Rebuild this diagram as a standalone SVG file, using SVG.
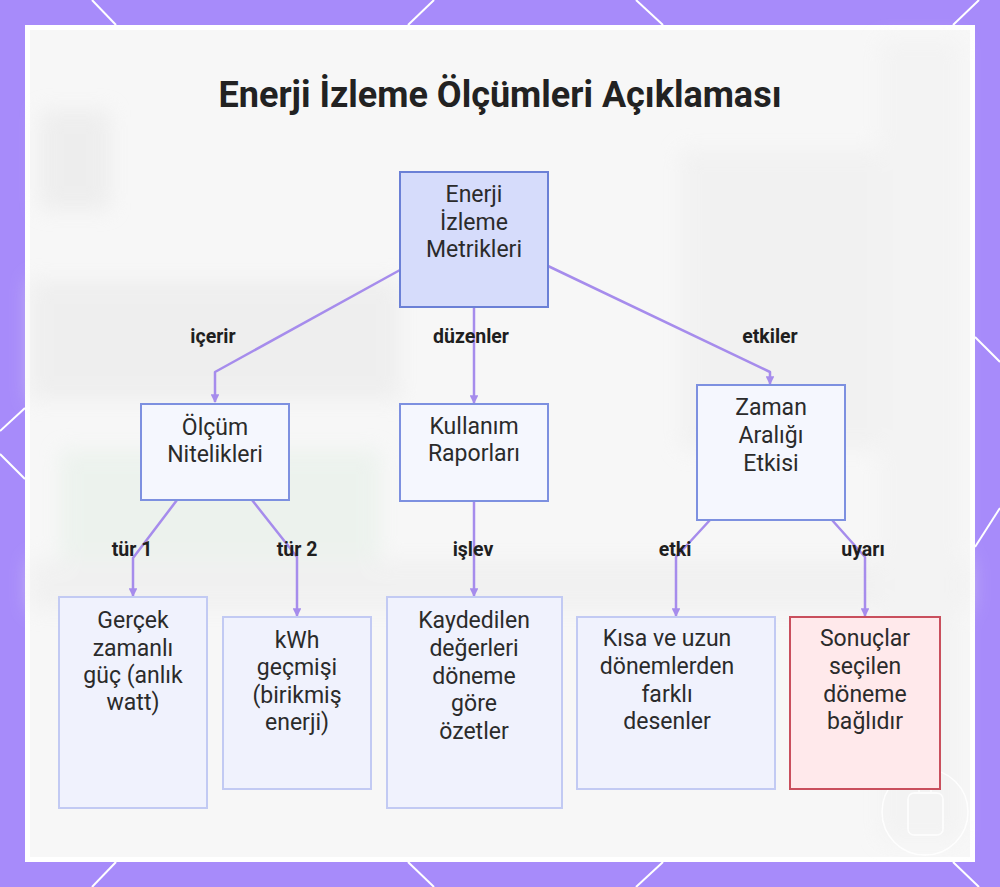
<svg xmlns="http://www.w3.org/2000/svg" width="1000" height="887" viewBox="0 0 1000 887">
<defs>
<style>
.node rect{stroke-width:2}
.main rect{fill:#d6dcfb;stroke:#6b80d6}
.mid rect{fill:#f5f7fe;stroke:#7d90e0}
.leaf rect{fill:#f0f2fd;stroke:#c2caf3}
.warn rect{fill:#ffe9eb;stroke:#c94f5d}
.node text{font-family:Roboto,"Liberation Sans",sans-serif;font-size:23px;fill:#2b2b2b;text-anchor:middle;dominant-baseline:central}
.edges path{fill:none;stroke:#a68cec;stroke-width:2.5;stroke-linejoin:round}
.lbl{font-family:Roboto,"Liberation Sans",sans-serif;font-size:19.5px;font-weight:bold;fill:#1f1f1f;text-anchor:middle;dominant-baseline:central}
.deco{stroke:#ffffff;stroke-width:2;fill:none}
</style>
<marker id="arr" viewBox="0 0 10 10" refX="9" refY="5" markerWidth="3.5" markerHeight="3.5" orient="auto">
<path d="M0,0 L10,5 L0,10 z" fill="#a68cec"/>
</marker>
<filter id="blur" x="-20%" y="-20%" width="140%" height="140%"><feGaussianBlur stdDeviation="10"/></filter>
</defs>
<rect width="1000" height="887" fill="#a78bfa"/>
<g class="deco">
<line x1="92" y1="0" x2="116" y2="25"/>
<line x1="434" y1="0" x2="408" y2="25"/>
<line x1="636" y1="0" x2="663" y2="25"/>
<line x1="979" y1="0" x2="953" y2="25"/>
<line x1="116" y1="862" x2="92" y2="887"/>
<line x1="408" y1="862" x2="434" y2="887"/>
<line x1="663" y1="862" x2="636" y2="887"/>
<line x1="953" y1="862" x2="979" y2="887"/>
<line x1="25" y1="408" x2="0" y2="431"/>
<line x1="0" y1="454" x2="25" y2="479"/>
<line x1="975" y1="337" x2="1000" y2="362"/>
<line x1="975" y1="547" x2="1000" y2="508"/>
</g>
<rect x="25" y="25" width="950" height="837" fill="#ffffff"/>
<rect x="30" y="30" width="940" height="827" fill="#f7f7f7"/>
<g filter="url(#blur)" opacity="0.55">
<rect x="40" y="110" width="70" height="100" fill="#e6e6e6"/>
<rect x="30" y="280" width="370" height="120" fill="#e8e8e8"/>
<rect x="60" y="450" width="320" height="150" fill="#e4efe6"/>
<rect x="30" y="560" width="940" height="50" fill="#ececec"/>
<rect x="680" y="150" width="200" height="300" fill="#ededed"/>
<rect x="880" y="40" width="80" height="800" fill="#f0f0f0"/>
</g>
<g fill="none" stroke="#ffffff" stroke-width="1.5" opacity="0.9">
<circle cx="925" cy="812" r="43"/>
<rect x="908" y="793" width="35" height="42" rx="6"/>
<line x1="919" y1="783" x2="919" y2="792"/>
<line x1="931" y1="783" x2="931" y2="792"/>
</g>
<text x="500" y="95" font-family="Roboto,'Liberation Sans',sans-serif" font-size="36" font-weight="bold" fill="#222222" text-anchor="middle" dominant-baseline="central">Enerji İzleme Ölçümleri Açıklaması</text>
<g class="edges">
<path d="M400,270 L215,372 L215,402" marker-end="url(#arr)"/>
<path d="M474,307 L474,403" marker-end="url(#arr)"/>
<path d="M548,266 L770,372 L770,384" marker-end="url(#arr)"/>
<path d="M177,500 L133,558 L133,596" marker-end="url(#arr)"/>
<path d="M252,500 L297,557 L297,616" marker-end="url(#arr)"/>
<path d="M474,501 L474,596" marker-end="url(#arr)"/>
<path d="M710,520 L676,557 L676,616" marker-end="url(#arr)"/>
<path d="M832,520 L865,557 L865,616" marker-end="url(#arr)"/>
<text class="lbl" x="213" y="336">içerir</text>
<text class="lbl" x="471" y="336">düzenler</text>
<text class="lbl" x="770" y="336">etkiler</text>
<text class="lbl" x="132" y="549">tür 1</text>
<text class="lbl" x="297" y="549">tür 2</text>
<text class="lbl" x="473" y="549">işlev</text>
<text class="lbl" x="675" y="549">etki</text>
<text class="lbl" x="863" y="549">uyarı</text>
</g>
<g id="n-root" class="node main">
<rect x="400" y="172" width="148" height="135"/>
<text x="474" y="194">Enerji</text>
<text x="474" y="222">İzleme</text>
<text x="474" y="249">Metrikleri</text>
</g>
<g id="n-olcum" class="node mid">
<rect x="141" y="404" width="148" height="96"/>
<text x="215" y="427">Ölçüm</text>
<text x="215" y="454">Nitelikleri</text>
</g>
<g id="n-kullanim" class="node mid">
<rect x="400" y="404" width="148" height="97"/>
<text x="474" y="426">Kullanım</text>
<text x="474" y="453">Raporları</text>
</g>
<g id="n-zaman" class="node mid">
<rect x="697" y="385" width="148" height="135"/>
<text x="771" y="407">Zaman</text>
<text x="771" y="435">Aralığı</text>
<text x="771" y="463">Etkisi</text>
</g>
<g id="n-gercek" class="node leaf">
<rect x="59" y="597" width="148" height="211"/>
<text x="133" y="620">Gerçek</text>
<text x="133" y="648">zamanlı</text>
<text x="133" y="675">güç (anlık</text>
<text x="133" y="702">watt)</text>
</g>
<g id="n-kwh" class="node leaf">
<rect x="223" y="617" width="148" height="172"/>
<text x="297" y="640">kWh</text>
<text x="297" y="667">geçmişi</text>
<text x="297" y="695">(birikmiş</text>
<text x="297" y="722">enerji)</text>
</g>
<g id="n-kaydedilen" class="node leaf">
<rect x="387" y="597" width="175" height="211"/>
<text x="474" y="620">Kaydedilen</text>
<text x="474" y="648">değerleri</text>
<text x="474" y="676">döneme</text>
<text x="474" y="703">göre</text>
<text x="474" y="731">özetler</text>
</g>
<g id="n-kisa" class="node leaf">
<rect x="577" y="617" width="198" height="172"/>
<text x="667" y="638">Kısa ve uzun</text>
<text x="667" y="666">dönemlerden</text>
<text x="667" y="694">farklı</text>
<text x="667" y="721">desenler</text>
</g>
<g id="n-sonuclar" class="node warn">
<rect x="790" y="617" width="150" height="172"/>
<text x="865" y="638">Sonuçlar</text>
<text x="865" y="666">seçilen</text>
<text x="865" y="694">döneme</text>
<text x="865" y="721">bağlıdır</text>
</g>
</svg>
